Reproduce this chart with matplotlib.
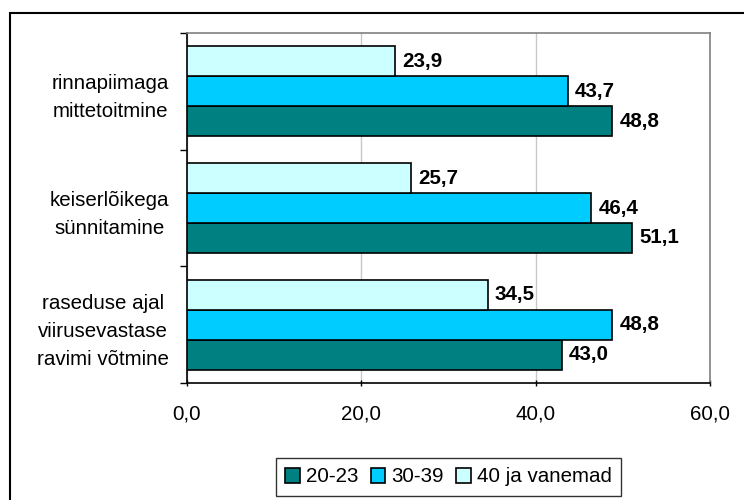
import numpy as np
import matplotlib.pyplot as plt
from matplotlib.patches import Rectangle

plt.rcParams['font.family'] = ['Liberation Sans', 'DejaVu Sans']

categories = ["raseduse ajal\nviirusevastase\nravimi võtmine",
              "keiserlõikega\nsünnitamine",
              "rinnapiimaga\nmittetoitmine"]
series_names = ["20-23", "30-39", "40 ja vanemad"]
vals_20_23 = [43.0, 51.1, 48.8]
vals_30_39 = [48.8, 46.4, 43.7]
vals_40 = [34.5, 25.7, 23.9]
colors = ["#008080", "#00CCFF", "#CCFFFF"]
xticks = [0, 20, 40, 60]

fs = 14.8
fig = plt.figure(figsize=(7.44, 5), dpi=100)
ax = fig.add_axes([187/744, 1 - 383/500, (710 - 187)/744, (383 - 33)/500])

y = np.arange(len(categories))
h = 30 / 116.7
series = [vals_20_23, vals_30_39, vals_40]
for i, (name, vals, c) in enumerate(zip(series_names, series, colors)):
    pos = y + (i - 1) * h
    ax.barh(pos, vals, height=h, color=c, edgecolor='black', linewidth=1.2, label=name, zorder=3)
    for yy, v in zip(pos, vals):
        ax.annotate(f"{v:.1f}".replace('.', ','), (v, yy), xytext=(5, 0), textcoords='offset points',
                    va='center', ha='left', fontsize=fs, fontweight='bold', zorder=4)

ax.set_xlim(0, 60)
ax.set_ylim(-0.5, 2.5)
ax.set_xticks(xticks)
ax.set_xticklabels([f"{t:.1f}".replace('.', ',') for t in xticks], fontsize=fs)
ax.set_yticks([-0.5, 0.5, 1.5, 2.5])
ax.set_yticklabels([])
ax.set_yticks(y, minor=True)
ax.set_yticklabels(categories, minor=True, fontsize=fs, multialignment='center', linespacing=1.6)
ax.tick_params(axis='y', which='minor', length=0, pad=13)
ax.tick_params(axis='y', which='major', length=5, width=1, direction='out')
ax.tick_params(axis='x', length=5, width=1, direction='inout', pad=13)
ax.grid(axis='x', color='#c8c8c8', linewidth=1, zorder=0)
for s in ['top', 'right']:
    ax.spines[s].set_color('#808080')
    ax.spines[s].set_linewidth(1.2)
for s in ['left', 'bottom']:
    ax.spines[s].set_color('black')
    ax.spines[s].set_linewidth(1.2)

leg = fig.legend(loc='center', bbox_to_anchor=(448.5/744, 1 - 477/500), ncol=3, fontsize=fs,
                 frameon=True, fancybox=False, edgecolor='black', handlelength=0.7, handleheight=0.7,
                 handletextpad=0.3, columnspacing=0.6, borderpad=0.45)
leg.get_frame().set_linewidth(1)

fig.patches.append(Rectangle((10/744, -0.1), 1.0, 1 - 13/500 + 0.1, transform=fig.transFigure,
                             fill=False, edgecolor='black', linewidth=1.5))

fig.savefig("out.png", dpi=100)
